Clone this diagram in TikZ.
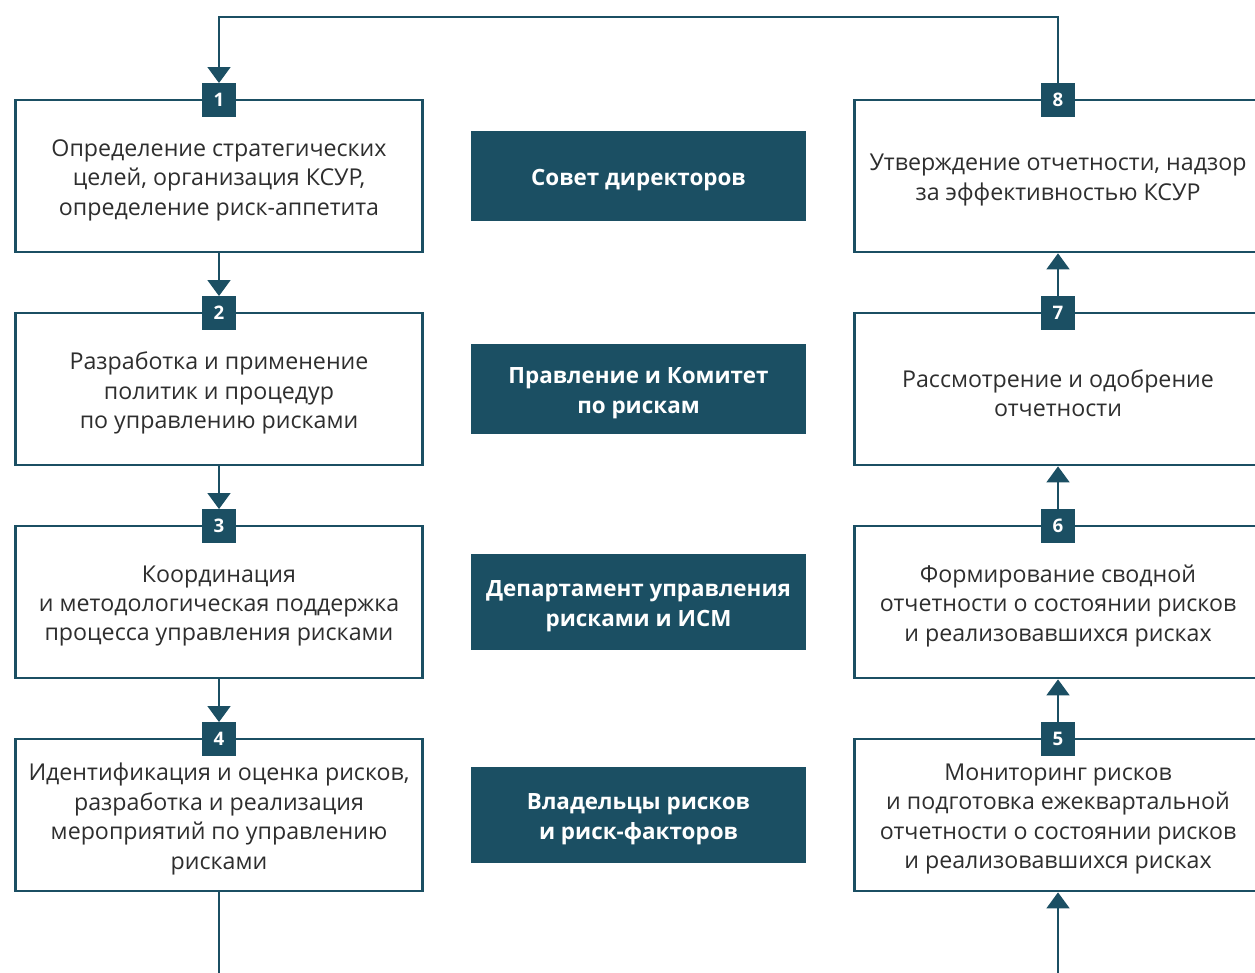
\documentclass[tikz,border=0pt]{standalone}
\usepackage{fontspec}
\setmainfont{Open Sans}
\usetikzlibrary{arrows.meta}
\definecolor{teal}{HTML}{1B4F63}
\definecolor{txt}{HTML}{2E2E2E}
\tikzset{
  px/.style={x=0.75pt,y=-0.75pt},
  wbox/.style={draw=teal,line width=2pt,fill=white,minimum width=305pt,minimum height=114pt,inner sep=0pt},
  wtext/.style={inner sep=0pt,align=center,text=txt,font=\fontsize{17.4}{22.1}\selectfont},
  dbox/.style={fill=teal,minimum width=251pt,inner sep=0pt},
  dtext/.style={inner sep=0pt,align=center,text=white,font=\bfseries\fontsize{16.8}{22.1}\selectfont},
  badge/.style={fill=teal,minimum width=25pt,minimum height=25pt,inner sep=0pt,text=white,font=\bfseries\fontsize{14}{14}\selectfont},
  conn/.style={draw=teal,line width=2pt},
  arr/.style={conn,-{Triangle[width=17pt,length=12pt]}}
}
\begin{document}
\begin{tikzpicture}[px]
\useasboundingbox (0,0) rectangle (1255,973);
\clip (0,0) rectangle (1255,973);
% left boxes
\node[wbox] (b1) at (219,176) {};
\node[wbox] (b2) at (219,389) {};
\node[wbox] (b3) at (219,602) {};
\node[wbox] (b4) at (219,815) {};
\node[wtext] (t1) at (219,180) {Определение стратегических\\целей, организация КСУР,\\определение риск-аппетита};
\node[wtext] (t2) at (219,393) {Разработка и применение\\политик и процедур\\по управлению рисками};
\node[wtext] (t3) at (219,606) {Координация\\и методологическая поддержка\\процесса управления рисками};
\node[wtext] (t4) at (219,819) {Идентификация и оценка рисков,\\разработка и реализация\\мероприятий по управлению\\рисками};
% right boxes
\node[wbox] (b8) at (1058,176) {};
\node[wbox] (b7) at (1058,389) {};
\node[wbox] (b6) at (1058,602) {};
\node[wbox] (b5) at (1058,815) {};
\node[wtext] (t8) at (1058,180) {Утверждение отчетности, надзор\\за эффективностью КСУР};
\node[wtext] (t7) at (1058,393) {Рассмотрение и одобрение\\отчетности};
\node[wtext] (t6) at (1058,606) {Формирование сводной\\отчетности о состоянии рисков\\и реализовавшихся рисках};
\node[wtext] (t5) at (1058,819) {Мониторинг рисков\\и подготовка ежеквартальной\\отчетности о состоянии рисков\\и реализовавшихся рисках};
% middle boxes
\node[dbox,minimum height=68pt] (m1) at (638.5,176) {};
\node[dbox,minimum height=68pt] (m2) at (638.5,389) {};
\node[dbox,minimum height=72pt] (m3) at (638.5,602) {};
\node[dbox,minimum height=72pt] (m4) at (638.5,815) {};
\node[dtext] (d1) at (638.5,180) {Совет директоров};
\node[dtext] (d2) at (638.5,393) {Правление и Комитет\\по рискам};
\node[dtext] (d3) at (638.5,606) {Департамент управления\\рисками и ИСМ};
\node[dtext] (d4) at (638.5,819) {Владельцы рисков\\и риск-факторов};
% badges
\node[badge] (n1) at (219,100) {1};
\node[badge] (n2) at (219,313) {2};
\node[badge] (n3) at (219,526) {3};
\node[badge] (n4) at (219,739) {4};
\node[badge] (n8) at (1058,100) {8};
\node[badge] (n7) at (1058,313) {7};
\node[badge] (n6) at (1058,526) {6};
\node[badge] (n5) at (1058,739) {5};
% connectors
\coordinate (tl) at (219,17);
\coordinate (tr) at (1058,17);
\coordinate (bl) at (219,975);
\coordinate (br) at (1058,975);
\draw[arr] (n8.north) -- (tr) -- (tl) -- (n1.north);
\draw[arr] (b1.south) -- (n2.north);
\draw[arr] (b2.south) -- (n3.north);
\draw[arr] (b3.south) -- (n4.north);
\draw[conn] (b4.south) -- (bl);
\draw[arr] (n7.north) -- (b8.south);
\draw[arr] (n6.north) -- (b7.south);
\draw[arr] (n5.north) -- (b6.south);
\draw[arr] (br) -- (b5.south);
\end{tikzpicture}
\end{document}
